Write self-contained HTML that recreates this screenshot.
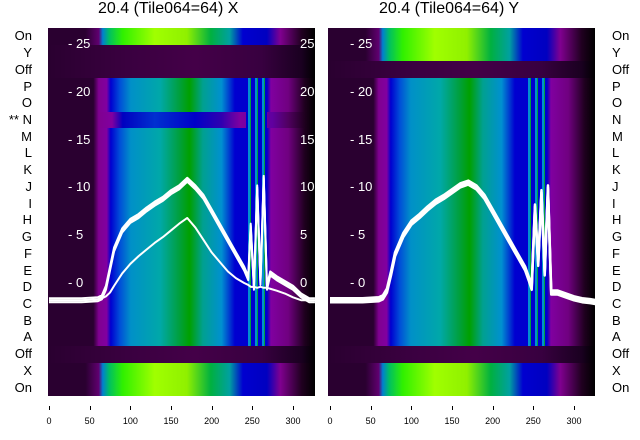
<!DOCTYPE html>
<html><head><meta charset="utf-8"><style>
body{margin:0;background:#fff;width:640px;height:440px;overflow:hidden;font-family:"Liberation Sans","DejaVu Sans",sans-serif;position:relative}
.t{position:absolute;font-size:16px;color:#000;top:0}
.lab{position:absolute;font-size:13px;color:#000;line-height:16px}
.panel{position:absolute;top:28px;height:368px;overflow:hidden}
.row{position:absolute;left:0;width:100%}
.xt{position:absolute;font-size:9px;top:416px;transform:translateX(-50%)}
.xk{position:absolute;top:406px;width:1px;height:4px;background:#000}
svg{position:absolute;left:0;top:0}
</style></head><body>
<div class="t" style="left:98px">20.4 (Tile064=64) X</div>
<div class="t" style="left:379px">20.4 (Tile064=64) Y</div>
<div id="P1" class="panel" style="left:48px;width:267px"></div>
<div id="P2" class="panel" style="left:328px;width:267px"></div>
<svg id="S" width="640" height="440"></svg>
<div id="L"></div>
<script>
const rowLabels=["On","Y","Off","P","O","N","M","L","K","J","I","H","G","F","E","D","C","B","A","Off","X","On"];
const leftRowTypes=["on","dark","dark","n","n","mid","n","n","n","n","n","n","n","n","n","n","n","n","n","dark","on","on"];
const rightRowTypes=["on","on","dark","n","n","n","n","n","n","n","n","n","n","n","n","n","n","n","n","dark","on","on"];
const xTicks=[0,50,100,150,200,250,300];
const yTicks=[0,5,10,15,20,25];
const xs=[0,40,60,65,70,75,80,90,100,110,120,130,140,150,160,170,180,190,200,210,220,230,240,245,248,252,256,260,264,268,272,280,290,300,310,320,327];
const leftBundle=[-1.8,-1.8,-1.7,-1.5,-0.5,1.5,3.5,5.5,6.5,7,7.7,8.3,8.8,9.5,10,10.8,10,9,7.5,6,4.5,3,1.5,0.5,6,-0.5,10,0,11,-0.5,1,0.5,0,-0.5,-1.3,-1.8,-1.8];
const leftLow=[-1.8,-1.8,-1.7,-1.6,-1.4,-1.0,-0.3,1,2,2.8,3.5,4.2,4.8,5.5,6.2,6.8,5.8,4.5,3.2,2.2,1.2,0.5,0,-0.2,-0.4,-0.4,-0.5,-0.4,-0.5,-0.5,-0.6,-0.8,-1.1,-1.5,-1.8,-1.8,-1.8];
const rightBundle=[-1.8,-1.8,-1.7,-1.5,-0.8,1,3,5,6.3,7,7.8,8.5,9,9.6,10.2,10.5,10,9,7.5,6,4.5,3,1.5,0.3,-0.5,8,2,9.5,1,10,-1,-1,-1.3,-1.6,-1.8,-1.9,-2];
const NS="http://www.w3.org/2000/svg";
const grads={
 n:"#2a0030 0,#2a0030 17%,#800090 19%,#8000a0 22%,#0000d0 23.5%,#0050d8 27%,#0090c8 31%,#00a8a8 42%,#00a040 49%,#00a000 53%,#00a090 58%,#0090d0 65%,#0000d0 70%,#0000c8 82%,#8000a0 83.5%,#700080 90%,#200020 96%,#000 100%",
 mid:"#2a0030 0,#2a0030 17%,#800090 19%,#8000a0 24%,#0000c0 28%,#0030d0 40%,#0000c8 55%,#3000b0 65%,#8000a0 72%,#6000a0 84%,#500060 90%,#200020 96%,#000 100%",
 on:"#2a0030 0,#2a0030 14%,#600070 19%,#0080d0 20.5%,#00c060 23%,#30f000 28%,#a0ff00 40%,#90f000 52%,#00b040 61%,#00a0a0 68%,#0000d0 73%,#0000c0 82%,#800090 87%,#200020 95%,#000 100%",
 dark:"#2a0030 0,#3a0040 30%,#440048 55%,#380040 80%,#1a0020 95%,#000 100%"};
const rh=368/22;
function heat(p,types){
 const P=document.getElementById(p);
 types.forEach((t,i)=>{
  const d=document.createElement('div');d.className='row';
  
  
  d.style.top=(i*rh)+'px';d.style.height=(rh+0.5)+'px';
  d.style.background='linear-gradient(90deg,'+grads[t]+')';
  P.appendChild(d);
 });
 const st=document.createElement('div');
 
 
 st.style.cssText='position:absolute;top:'+(3*rh)+'px;height:'+(16*rh)+'px;left:'+(243*0.813)+'px;width:'+(27*0.813)+'px;background:repeating-linear-gradient(90deg,#0000d0 0,#0000d0 2px,#0090d0 2px,#0090d0 4px,#00a040 4px,#00a040 5px,#0000d0 5px,#0000d0 7px)';
 P.appendChild(st);
}
heat('P1',leftRowTypes);heat('P2',rightRowTypes);
const sx=v=>v*0.8133, sy=v=>283-v*9.56;
function line(x0,ys,w,name,dy){
 const p=document.createElementNS(NS,'path');
 p.setAttribute('d',ys.map((v,i)=>(i?'L':'M')+(x0+sx(xs[i]))+','+(sy(v)+dy)).join(''));
 p.setAttribute('fill','none');p.setAttribute('stroke','#fff');p.setAttribute('stroke-width',w);
 p.setAttribute('stroke-linejoin','round');
 
 
 document.getElementById('S').appendChild(p);
}
[-2,0,2].forEach(d=>line(49,leftBundle,2,'left-bundle-line',d));
line(49,leftLow,2,'left-low-line',0);
[-2,0,2].forEach(d=>line(330,rightBundle,2.5,'right-bundle-line',d));
const L=document.getElementById('L');
function txt(cls,x,y,s,name,col){const e=document.createElement('div');e.className=cls;e.style.left=x+'px';e.style.top=y+'px';e.textContent=s;if(col)e.style.color=col;
 
 
 L.appendChild(e);return e;}
rowLabels.forEach((s,i)=>{
 const y=28+i*rh+rh/2-8;
 const a=txt('lab',0,y,(i==5?'** ':'')+s,'left-row-label');a.style.width='32px';a.style.textAlign='right';
 txt('lab',612,y,s,'right-row-label');
});
yTicks.forEach(v=>{
 txt('lab',68,sy(v)-8,'- '+v,'left-y-tick','#fff');
 txt('lab',350,sy(v)-8,'- '+v,'right-y-tick','#fff');
 const e=txt('lab',300,sy(v)-8,String(v),'twin-y-tick','#fff');e.style.width='15px';e.style.overflow='hidden';
});
xTicks.forEach(v=>{
 [49,330].forEach(x0=>{
  const k=document.createElement('div');k.className='xk';k.style.left=(x0+sx(v))+'px';
  
  
  L.appendChild(k);
  txt('xt',x0+sx(v),416,String(v),'x-tick-label');
 });
});
</script>
</body></html>
